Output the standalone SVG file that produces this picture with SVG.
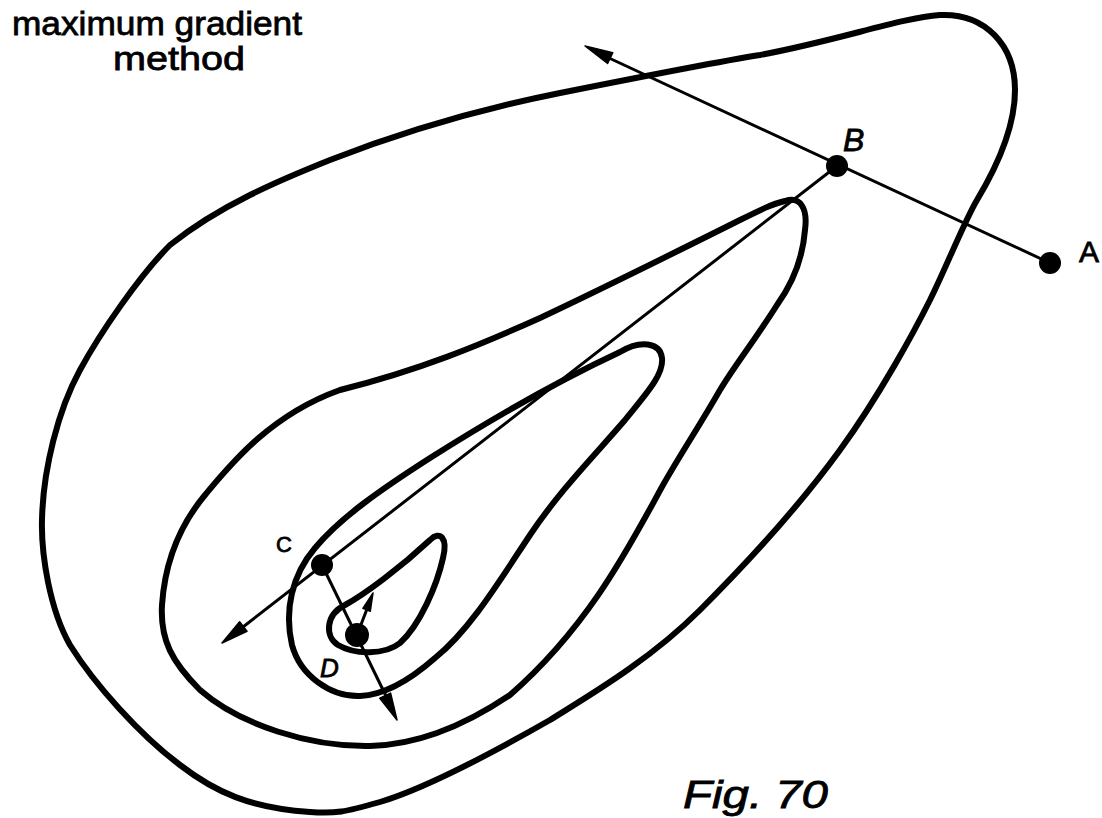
<svg xmlns="http://www.w3.org/2000/svg" width="1102" height="818" viewBox="0 0 1102 818">
<style>
.contour{fill:none;stroke:#000;stroke-width:6;stroke-linecap:round;stroke-linejoin:round}
.ray{fill:none;stroke:#000;stroke-width:3;stroke-linecap:round}
.dot{fill:#000}
.head{fill:#000;stroke:#000;stroke-width:1.5;stroke-linejoin:round}
.lbl{font-family:"Liberation Sans","DejaVu Sans",sans-serif;fill:#000;stroke:#000;stroke-width:0.8}
</style>
<rect width="1102" height="818" fill="#fff"/>
<g id="title">
<text class="lbl" x="12" y="35" font-size="34" textLength="290" lengthAdjust="spacingAndGlyphs">maximum  gradient</text>
<text class="lbl" x="113" y="70" font-size="34" textLength="132" lengthAdjust="spacingAndGlyphs">method</text>
</g>
<g id="contours">
<path id="contour-outer" class="contour" d="M 940 15 C 985 13, 1015 45, 1015 90 C 1015 125, 998 165, 977 200 C 965 220, 945 270, 930 300 C 915 330, 880 395, 840 450 C 800 505, 750 560, 700 610 C 650 660, 590 695, 550 720 C 480 760, 420 790, 380 802 C 345 812, 335 814, 310 812 C 250 808, 215 792, 180 765 C 140 735, 95 685, 70 645 C 50 610, 41 555, 42 520 C 43 470, 58 410, 80 370 C 100 333, 140 275, 170 245 C 220 205, 280 180, 330 160 C 420 125, 500 105, 560 93 C 650 75, 710 63, 760 55 C 840 40, 900 18, 940 15 Z"/>
<path id="contour-middle" class="contour" d="M 785 201 C 800 196, 808 208, 805 230 C 803 255, 795 280, 777 305 C 755 340, 735 365, 720 390 C 700 425, 683 450, 663 485 C 630 545, 590 625, 510 695 C 470 722, 420 745, 370 746 C 310 747, 240 725, 200 690 C 172 662, 160 640, 162 605 C 165 560, 180 525, 205 495 C 230 465, 270 415, 340 390 C 420 370, 480 345, 540 318 C 610 285, 680 250, 740 220 C 760 210, 772 204, 785 201 Z"/>
<path id="contour-third" class="contour" d="M 620 352 C 640 340, 660 342, 662 358 C 664 375, 645 395, 625 420 C 595 455, 560 490, 530 535 C 500 580, 470 630, 435 658 C 410 680, 385 695, 360 696 C 330 697, 300 675, 292 645 C 284 610, 292 575, 315 548 C 340 518, 380 490, 430 458 C 490 420, 560 380, 620 352 Z"/>
<path id="contour-inner" class="contour" d="M 430 540 C 440 530, 448 538, 443 558 C 437 585, 420 625, 400 643 C 385 655, 355 655, 338 645 C 325 637, 325 615, 345 605 C 365 594, 400 568, 430 540 Z"/>
</g>
<g id="connectors">
<line class="ray" x1="1050" y1="263" x2="609" y2="58"/>
<polygon class="head" points="585,46 612.8,52.7 607.6,63.5"/>
<line class="ray" x1="837" y1="166" x2="243" y2="627"/>
<polygon class="head" points="222,643 247,631.2 239.6,621.8"/>
<line class="ray" x1="322" y1="565" x2="386" y2="696"/>
<polygon class="head" points="397,720 390.6,693.1 379.8,698.3"/>
<line class="ray" x1="357" y1="635" x2="367" y2="609"/>
<polygon class="head" points="373,593 370.3,611.2 362.9,608.4"/>
</g>
<g id="node-A">
<circle class="dot" cx="1050" cy="263" r="11"/>
<text class="lbl" x="1079" y="262" font-size="30">A</text>
</g>
<g id="node-B">
<circle class="dot" cx="837" cy="166" r="11"/>
<text class="lbl" x="843" y="151" font-size="32" font-style="italic">B</text>
</g>
<g id="node-C">
<circle class="dot" cx="322" cy="565" r="11"/>
<text class="lbl" x="276" y="552" font-size="22">C</text>
</g>
<g id="node-D">
<circle class="dot" cx="357" cy="635" r="12"/>
<text class="lbl" x="320" y="677" font-size="26" font-style="italic">D</text>
</g>
<g id="caption">
<text class="lbl" x="683" y="808" font-size="38" font-style="italic" textLength="145" lengthAdjust="spacingAndGlyphs">Fig. 70</text>
</g>
</svg>
